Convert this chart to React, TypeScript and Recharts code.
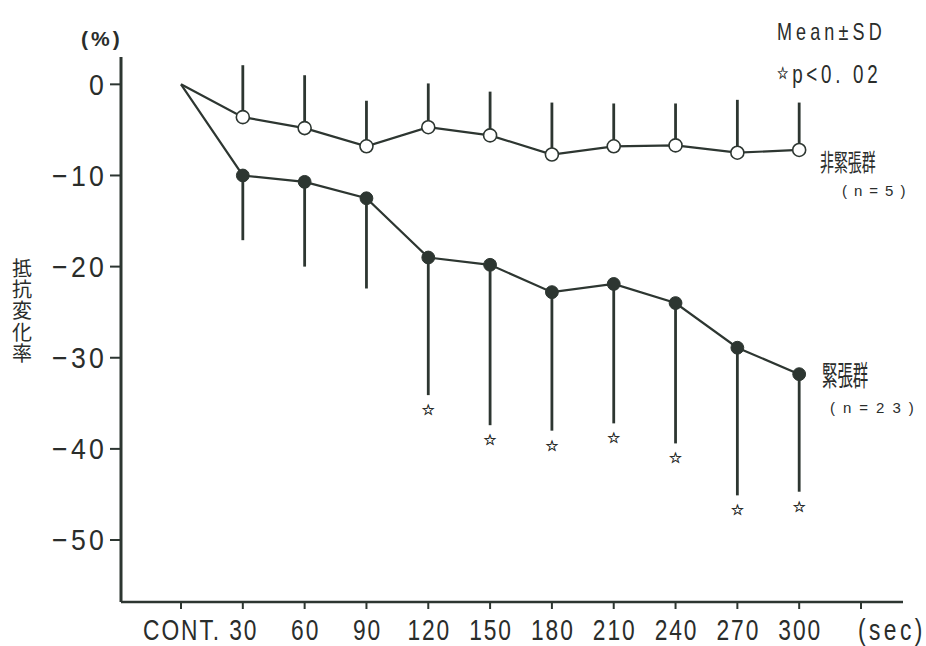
import React from 'react';
import { LineChart, Line, XAxis, YAxis, ErrorBar } from 'recharts';

// ---- data ----
const timeLabels = ['CONT.', '30', '60', '90', '120', '150', '180', '210', '240', '270', '300'];
const unitLabel = '(sec)';
const nonTenseMean = [0, -3.6, -4.8, -6.8, -4.7, -5.6, -7.7, -6.8, -6.7, -7.5, -7.2];
const nonTenseSD = [0, 5.7, 5.8, 5.0, 4.8, 4.8, 5.7, 4.7, 4.6, 5.8, 5.2];
const tenseMean = [0, -10.0, -10.7, -12.5, -19.0, -19.8, -22.8, -21.9, -24.0, -28.9, -31.8];
const tenseSD = [0, 7.1, 9.3, 9.9, 15.1, 17.6, 15.2, 15.3, 15.4, 16.2, 12.9];
const significant = [false, false, false, false, true, true, true, true, true, true, true];
const yTicks = [0, -10, -20, -30, -40, -50];
const yTitle = '抵抗変化率';

const INK = '#2d3631';
const TEXT = '#2a2d2b';
const LATIN = '"Liberation Sans", Arial, sans-serif';
const CJK = '"Noto Sans CJK JP", "Noto Sans CJK SC", sans-serif';

const data = [...timeLabels, unitLabel].map((label, i) => {
  const inRange = i < timeLabels.length;
  return {
    label,
    nonTense: inRange ? nonTenseMean[i] : null,
    nonTenseErr: inRange ? [0, nonTenseSD[i]] : undefined,
    tense: inRange ? tenseMean[i] : null,
    tenseErr: inRange ? [tenseSD[i], 0] : undefined,
    star: inRange && significant[i] ? tenseMean[i] - tenseSD[i] : null,
  };
});

const ok = (v: any) => typeof v === 'number' && !Number.isNaN(v);

const OpenDot = (props: any) => {
  const { cx, cy, index } = props;
  if (index === 0 || !ok(cx) || !ok(cy)) return <g key={`o${index}`} />;
  return <circle key={`o${index}`} cx={cx} cy={cy} r={6.5} fill="#ffffff" stroke={INK} strokeWidth={1.6} />;
};

const FilledDot = (props: any) => {
  const { cx, cy, index } = props;
  if (index === 0 || !ok(cx) || !ok(cy)) return <g key={`f${index}`} />;
  return <circle key={`f${index}`} cx={cx} cy={cy} r={6.4} fill={INK} stroke={INK} strokeWidth={1} />;
};

const StarMark = (props: any) => {
  const { cx, cy, index, payload } = props;
  if (!ok(cx) || !ok(cy) || payload == null || payload.star == null) return <g key={`s${index}`} />;
  return (
    <text
      key={`s${index}`}
      x={cx}
      y={cy + 15}
      textAnchor="middle"
      dominantBaseline="central"
      fontSize={15}
      fontFamily='"DejaVu Sans", sans-serif'
      fill={TEXT}
      stroke={TEXT}
      strokeWidth={0.4}
    >
      ☆
    </text>
  );
};

const XTick = (props: any) => {
  const { x, y, payload } = props;
  const isUnit = payload.value === unitLabel;
  return (
    <text
      transform={`translate(${isUnit ? x - 3 : x + 1},${y + 29}) scale(0.76,1)`}
      textAnchor={isUnit ? 'start' : 'middle'}
      fontSize={30}
      fontFamily={LATIN}
      letterSpacing={isUnit ? 4.5 : 2.5}
      fill={TEXT}
    >
      {payload.value}
    </text>
  );
};

const fmtY = (v: number) => (v < 0 ? '\u2212' + Math.abs(v) : String(v));

const YTick = (props: any) => {
  const { x, y, payload } = props;
  return (
    <text
      transform={`translate(${x},${y}) scale(0.92,1)`}
      textAnchor="end"
      dy="0.36em"
      fontSize={29}
      fontFamily={LATIN}
      letterSpacing={3.5}
      fill={TEXT}
    >
      {fmtY(payload.value)}
    </text>
  );
};

const Annotations = () => (
  <svg
    width={926}
    height={646}
    style={{ position: 'absolute', left: 0, top: 0, pointerEvents: 'none' }}
  >
    <text x={81} y={46} fontSize={21} fontWeight={700} fontFamily={LATIN} letterSpacing={3} fill={TEXT}>
      (%)
    </text>
    <text
      x={22}
      y={258}
      fontSize={20}
      fontFamily={CJK}
      letterSpacing={1.4}
      fill={TEXT}
      style={{ writingMode: 'vertical-rl' }}
    >
      {yTitle}
    </text>
    <text transform="translate(777,40) scale(0.75,1)" fontSize={24} fontFamily={LATIN} letterSpacing={5.5} fill={TEXT}>
      Mean±SD
    </text>
    <text transform="translate(777,83) scale(0.75,1)" fontSize={25} fontFamily={LATIN} letterSpacing={5} fill={TEXT}>
      <tspan fontSize={17} fontFamily='"DejaVu Sans", sans-serif' dy={-4} stroke={TEXT} strokeWidth={0.4}>☆</tspan>
      <tspan dy={4}>p&lt;0. 02</tspan>
    </text>
    <text transform="translate(820,161) scale(0.58,1)" dominantBaseline="central" fontSize={24} fontFamily={CJK} fill={TEXT}>
      非緊張群
    </text>
    <text x={842} y={190} dominantBaseline="central" fontSize={15} fontFamily={LATIN} letterSpacing={7} fill={TEXT}>
      (n=5)
    </text>
    <text transform="translate(822,374) scale(0.55,1)" dominantBaseline="central" fontSize={28} fontFamily={CJK} fill={TEXT}>
      緊張群
    </text>
    <text x={830} y={407} dominantBaseline="central" fontSize={15} fontFamily={LATIN} letterSpacing={8} fill={TEXT}>
      (n=23)
    </text>
  </svg>
);

export default function App() {
  return (
    <div style={{ position: 'absolute', left: 0, top: 0, width: 926, height: 646, background: '#ffffff' }}>
      <LineChart width={926} height={646} data={data} margin={{ top: 57, right: 23, bottom: 0, left: 0 }}>
        <XAxis
          dataKey="label"
          type="category"
          interval={0}
          padding={{ left: 60, right: 42 }}
          height={44}
          tickSize={7}
          tick={<XTick />}
          axisLine={{ stroke: INK, strokeWidth: 2.5 }}
          tickLine={{ stroke: INK, strokeWidth: 2 }}
        />
        <YAxis
          type="number"
          domain={[-56.8, 3]}
          allowDataOverflow
          ticks={yTicks}
          width={121}
          tickSize={11}
          tickMargin={3}
          tick={<YTick />}
          axisLine={{ stroke: INK, strokeWidth: 3 }}
          tickLine={{ stroke: INK, strokeWidth: 2 }}
        />
        <Line
          dataKey="nonTense"
          stroke={INK}
          strokeWidth={2.2}
          dot={OpenDot}
          activeDot={false}
          isAnimationActive={false}
          legendType="none"
        >
          <ErrorBar dataKey="nonTenseErr" width={0} stroke={INK} strokeWidth={2.8} direction="y" />
        </Line>
        <Line
          dataKey="tense"
          stroke={INK}
          strokeWidth={2.2}
          dot={FilledDot}
          activeDot={false}
          isAnimationActive={false}
          legendType="none"
        >
          <ErrorBar dataKey="tenseErr" width={0} stroke={INK} strokeWidth={2.8} direction="y" />
        </Line>
        <Line
          dataKey="star"
          stroke="none"
          dot={StarMark}
          activeDot={false}
          isAnimationActive={false}
          legendType="none"
        />
      </LineChart>
      <Annotations />
    </div>
  );
}
